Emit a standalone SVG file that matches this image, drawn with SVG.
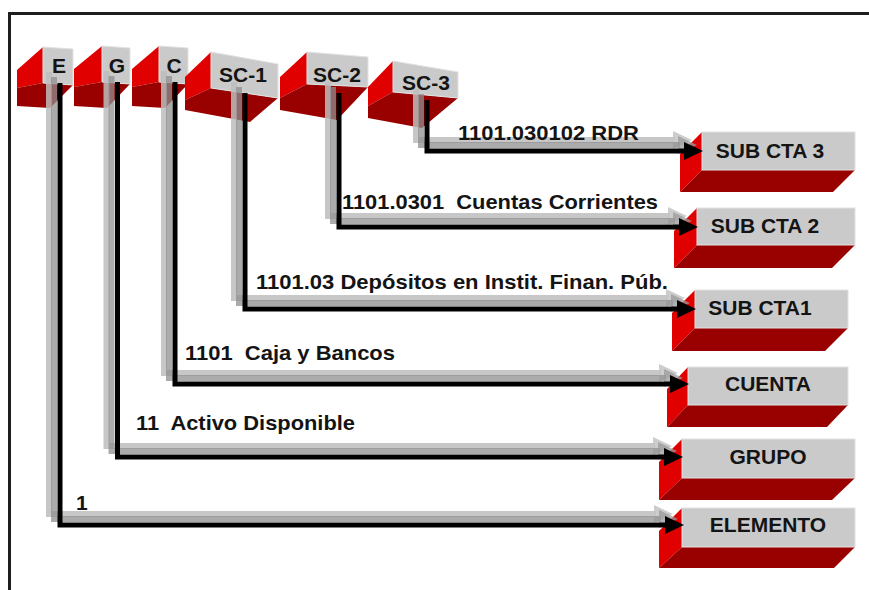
<svg xmlns="http://www.w3.org/2000/svg" xmlns:xlink="http://www.w3.org/1999/xlink" width="869" height="590" viewBox="0 0 869 590">
<style>
.face{fill:#cacaca;stroke:#e2e2e2;stroke-width:1}
.lite{fill:#e00000}
.dark{fill:#990000}
.nl{font-family:"Liberation Sans",Arial,sans-serif;font-weight:bold;font-size:21px;fill:#141414;text-anchor:middle}
.cl{font-family:"Liberation Sans",Arial,sans-serif;font-weight:bold;font-size:21px;fill:#141414;white-space:pre}
.ln{fill:none;stroke:#000;stroke-width:5;stroke-linejoin:miter}
.s1{fill:none;stroke:#bdbdbd;stroke-width:6;opacity:0.85}
.s2{fill:none;stroke:#8f8f8f;stroke-width:6;opacity:0.75}
.h1{fill:#c4c4c4;opacity:0.85}
.h2{fill:#9a9a9a;opacity:0.75}
.hd{fill:#000}
</style>
<defs>
<path id="pE" d="M60,83 V525 H667"/>
<polygon id="aE" points="684,525 665,516 665,534"/>
<path id="pG" d="M117.5,82 V457 H666"/>
<polygon id="aG" points="683,457 664,448 664,466"/>
<path id="pC" d="M175,82 V384 H672"/>
<polygon id="aC" points="689,384 670,375 670,393"/>
<path id="pS1" d="M245,93 V309 H679"/>
<polygon id="aS1" points="696,309 677,300 677,318"/>
<path id="pS2" d="M339,93 V227 H681"/>
<polygon id="aS2" points="698,227 679,218 679,236"/>
<path id="pS3" d="M427,100 V151 H686"/>
<polygon id="aS3" points="703,151 684,142 684,160"/>
</defs>

<g id="frame">
<path d="M9.5,590 V13.5 H869" fill="none" stroke="#1e1e1e" stroke-width="3"/>
</g>

<g id="node-E">
<polygon class="lite" points="17,70 43,47 43,83 17,88"/>
<polygon class="dark" points="17,88 43,83 73,85 50,108 17,106"/>
<polygon class="face" points="43,47 73,49 73,85 43,83"/>
<text class="nl" x="59" y="73">E</text>
</g>
<g id="node-G">
<polygon class="lite" points="74,69 102,46 102,82 74,87"/>
<polygon class="dark" points="74,87 102,82 130,84 107,108 74,106"/>
<polygon class="face" points="102,46 130,48 130,84 102,82"/>
<text class="nl" x="117" y="73">G</text>
</g>
<g id="node-C">
<polygon class="lite" points="132,69 159,46 159,82 132,87"/>
<polygon class="dark" points="132,87 159,82 188,84 165,108 132,106"/>
<polygon class="face" points="159,46 188,48 188,84 159,82"/>
<text class="nl" x="174" y="73">C</text>
</g>
<g id="node-SC1">
<polygon class="lite" points="185,77 211,52 211,88 185,100"/>
<polygon class="dark" points="185,100 211,88 278,98 250,122 185,110"/>
<polygon class="face" points="211,52 278,64 278,98 211,88"/>
<text class="nl" x="243" y="82">SC-1</text>
</g>
<g id="node-SC2">
<polygon class="lite" points="280,77 307,52 307,84 280,98"/>
<polygon class="dark" points="280,98 307,84 368,87 337,120 280,110"/>
<polygon class="face" points="307,52 368,57 368,87 307,84"/>
<text class="nl" x="337" y="82">SC-2</text>
</g>
<g id="node-SC3">
<polygon class="lite" points="368,87 393,61 393,92 368,106"/>
<polygon class="dark" points="368,106 393,92 458,98 422,128 368,118"/>
<polygon class="face" points="393,61 458,72 458,98 393,92"/>
<text class="nl" x="426" y="90">SC-3</text>
</g>

<g id="node-SUBCTA3">
<polygon class="lite" points="680,154 702,132 702,170 680,192"/>
<polygon class="dark" points="702,170 855,170 833,192 680,192"/>
<rect class="face" x="702" y="132" width="153" height="38"/>
<text class="nl" x="770" y="158">SUB CTA 3</text>
</g>
<g id="node-SUBCTA2">
<polygon class="lite" points="674,231 697,208 697,245 674,268"/>
<polygon class="dark" points="697,245 855,245 832,268 674,268"/>
<rect class="face" x="697" y="208" width="158" height="37"/>
<text class="nl" x="765" y="233">SUB CTA 2</text>
</g>
<g id="node-SUBCTA1">
<polygon class="lite" points="672,313 695,290 695,328 672,351"/>
<polygon class="dark" points="695,328 848,328 825,351 672,351"/>
<rect class="face" x="695" y="290" width="153" height="38"/>
<text class="nl" x="760" y="315">SUB CTA1</text>
</g>
<g id="node-CUENTA">
<polygon class="lite" points="667,389 688,367 688,405 667,427"/>
<polygon class="dark" points="688,405 848,405 827,427 667,427"/>
<rect class="face" x="688" y="367" width="160" height="38"/>
<text class="nl" x="768" y="391">CUENTA</text>
</g>
<g id="node-GRUPO">
<polygon class="lite" points="659,462 682,439 682,478 659,500"/>
<polygon class="dark" points="682,478 855,478 832,500 659,500"/>
<rect class="face" x="682" y="439" width="173" height="39"/>
<text class="nl" x="768" y="464">GRUPO</text>
</g>
<g id="node-ELEMENTO">
<polygon class="lite" points="659,531 682,508 682,547 659,568"/>
<polygon class="dark" points="682,547 855,547 834,568 659,568"/>
<rect class="face" x="682" y="508" width="173" height="39"/>
<text class="nl" x="768" y="532">ELEMENTO</text>
</g>

<g id="connectors">
<g transform="translate(-11,-11)">
<use xlink:href="#pE" class="s1"/><use xlink:href="#aE" class="h1"/>
<use xlink:href="#pG" class="s1"/><use xlink:href="#aG" class="h1"/>
<use xlink:href="#pC" class="s1"/><use xlink:href="#aC" class="h1"/>
<use xlink:href="#pS1" class="s1"/><use xlink:href="#aS1" class="h1"/>
<use xlink:href="#pS2" class="s1"/><use xlink:href="#aS2" class="h1"/>
<use xlink:href="#pS3" class="s1"/><use xlink:href="#aS3" class="h1"/>
</g>
<g transform="translate(-6,-6)">
<use xlink:href="#pE" class="s2"/><use xlink:href="#aE" class="h2"/>
<use xlink:href="#pG" class="s2"/><use xlink:href="#aG" class="h2"/>
<use xlink:href="#pC" class="s2"/><use xlink:href="#aC" class="h2"/>
<use xlink:href="#pS1" class="s2"/><use xlink:href="#aS1" class="h2"/>
<use xlink:href="#pS2" class="s2"/><use xlink:href="#aS2" class="h2"/>
<use xlink:href="#pS3" class="s2"/><use xlink:href="#aS3" class="h2"/>
</g>
<use xlink:href="#pE" class="ln"/><use xlink:href="#aE" class="hd"/>
<use xlink:href="#pG" class="ln"/><use xlink:href="#aG" class="hd"/>
<use xlink:href="#pC" class="ln"/><use xlink:href="#aC" class="hd"/>
<use xlink:href="#pS1" class="ln"/><use xlink:href="#aS1" class="hd"/>
<use xlink:href="#pS2" class="ln"/><use xlink:href="#aS2" class="hd"/>
<use xlink:href="#pS3" class="ln"/><use xlink:href="#aS3" class="hd"/>
</g>

<g id="labels">
<text class="cl" x="458" y="140" textLength="181" lengthAdjust="spacingAndGlyphs">1101.030102 RDR</text>
<text class="cl" x="342" y="209" textLength="316" lengthAdjust="spacingAndGlyphs">1101.0301  Cuentas Corrientes</text>
<text class="cl" x="256" y="289" textLength="412" lengthAdjust="spacingAndGlyphs">1101.03 Depósitos en Instit. Finan. Púb.</text>
<text class="cl" x="185" y="360" textLength="210" lengthAdjust="spacingAndGlyphs">1101  Caja y Bancos</text>
<text class="cl" x="136" y="430" textLength="219" lengthAdjust="spacingAndGlyphs">11  Activo Disponible</text>
<text class="cl" x="76" y="510">1</text>
</g>
</svg>
